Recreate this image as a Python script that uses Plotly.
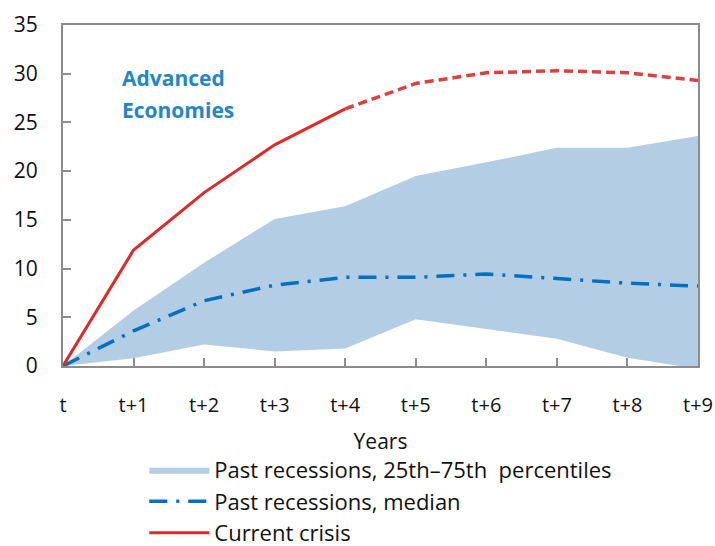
import plotly.graph_objects as go

years = ["t", "t+1", "t+2", "t+3", "t+4", "t+5", "t+6", "t+7", "t+8", "t+9"]
band_low = [0, 0.8, 2.2, 1.5, 1.8, 4.8, 3.8, 2.8, 0.85, -0.3]
band_high = [0, 5.7, 10.6, 15.1, 16.4, 19.5, 20.9, 22.4, 22.4, 23.6]
median = [0, 3.6, 6.7, 8.3, 9.1, 9.1, 9.45, 9.0, 8.5, 8.2]
current = [0, 11.9, 17.8, 22.7, 26.4, 29.0, 30.1, 30.3, 30.1, 29.3]
last_actual = 4  # t+4 onwards is projection

FONT = "Open Sans"
BLUE = "#0070C0"
RED = "#E02828"
BAND = "#B3CDE4"
TITLE_BLUE = "#2585C6"

fig = go.Figure()

# band 25th-75th
fig.add_trace(go.Scatter(x=years, y=band_low, mode="lines", line=dict(width=0),
                         showlegend=False, hoverinfo="skip", legendgroup="a"))
fig.add_trace(go.Scatter(x=years, y=band_high, mode="lines", line=dict(width=0),
                         fill="tonexty", fillcolor=BAND, legendgroup="a",
                         name="Past recessions, 25th\u201375th  percentiles"))

fig.add_trace(go.Scatter(x=years, y=median, mode="lines", legendgroup="b",
                         line=dict(color=BLUE, width=3.5, dash="18px,9px,3px,9px"),
                         name="Past recessions, median"))

fig.add_trace(go.Scatter(x=years[:last_actual + 1], y=current[:last_actual + 1], mode="lines",
                         line=dict(color=RED, width=3), name="Current crisis", legendgroup="c"))
fig.add_trace(go.Scatter(x=years[last_actual:], y=current[last_actual:], mode="lines",
                         line=dict(color="#DC4040", width=3.5, dash="9px,5px"),
                         showlegend=False, legendgroup="c"))

for txt, yy in [("Advanced", 0.845), ("Economies", 0.75)]:
    fig.add_annotation(text="<b>%s</b>" % txt, xref="paper", yref="paper",
                       x=0.09, y=yy, xanchor="left", yanchor="middle", align="left",
                       showarrow=False, font=dict(family=FONT, size=21, color=TITLE_BLUE))

fig.update_xaxes(type="category", range=[0, 9], showline=True, linecolor="#8C8C8C",
                 linewidth=2, mirror=True, ticks="inside", ticklen=8, tickcolor="#8C8C8C",
                 tickwidth=2, showgrid=False, ticklabelstandoff=20, automargin=False,
                 tickfont=dict(size=20),
                 title=dict(text="Years", standoff=17, font=dict(size=21)))
fig.update_yaxes(range=[0, 35], dtick=5, showline=True, linecolor="#8C8C8C",
                 linewidth=2, mirror=True, ticks="inside", ticklen=8, tickcolor="#8C8C8C",
                 tickwidth=2, showgrid=False, zeroline=False, ticklabelstandoff=19,
                 automargin=False, tickfont=dict(size=21))

fig.update_layout(
    width=715, height=546,
    margin=dict(l=63, r=17, t=25, b=180, autoexpand=False),
    paper_bgcolor="white", plot_bgcolor="white",
    font=dict(family=FONT, size=20, color="#111111"),
    legend=dict(orientation="v", traceorder="normal", x=0.128, y=-0.243,
                xanchor="left", yanchor="top",
                font=dict(size=22), tracegroupgap=4, itemwidth=60,
                bgcolor="rgba(0,0,0,0)"),
)

# drop the default 8px body margin so the figure fills the window
fig.write_html("out.html", config={"displayModeBar": False},
               post_script="document.body.style.margin='0';document.body.style.overflow='hidden';")
